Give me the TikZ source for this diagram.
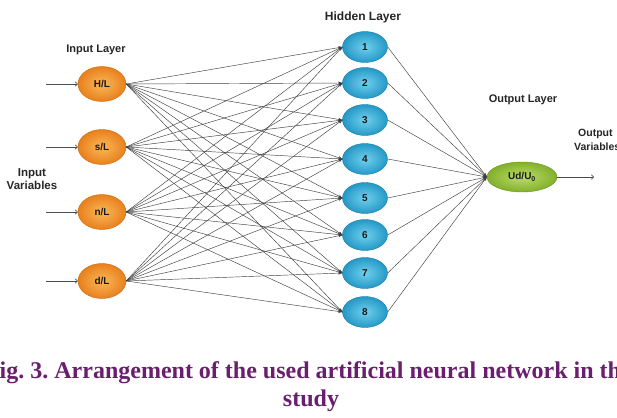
\documentclass[tikz,border=0pt]{standalone}
\usepackage{fontspec}
\setmainfont{Liberation Sans}
\newfontfamily\capfont{Liberation Serif}
\usetikzlibrary{arrows.meta,shapes.geometric}
\definecolor{orin}{HTML}{FBB85A}
\definecolor{orout}{HTML}{E8801C}
\definecolor{orbd}{HTML}{C86A12}
\definecolor{blin}{HTML}{6FD0EE}
\definecolor{blout}{HTML}{2598C6}
\definecolor{blbd}{HTML}{1F7FA8}
\definecolor{grin}{HTML}{BCDC68}
\definecolor{grout}{HTML}{82B02C}
\definecolor{grbd}{HTML}{6A9420}
\definecolor{capcol}{HTML}{6A1E6E}
\frenchspacing
\tikzset{
  lbl/.style={font=\bfseries\fontsize{11}{12.5}\selectfont, text=black!85, align=center, inner sep=0pt},
  nodefont/.style={font=\bfseries\fontsize{10}{11}\selectfont, text=black!90},
  inp/.style={ellipse, minimum width=48pt, minimum height=35pt, inner sep=0pt, inner color=orin, outer color=orout, draw=orbd, line width=0.4pt, nodefont},
  hid/.style={ellipse, minimum width=45pt, minimum height=31pt, inner sep=0pt, inner color=blin, outer color=blout, draw=blbd, line width=0.4pt, nodefont},
  outn/.style={ellipse, minimum width=70pt, minimum height=30pt, inner sep=0pt, inner color=grin, outer color=grout, draw=grbd, line width=0.4pt, nodefont},
  conn/.style={draw=black!75, line width=0.45pt, -{Stealth[length=4pt,width=3pt]}},
  iarrow/.style={draw=black!70, line width=0.6pt, -{To[length=3pt,width=5pt]}},
  captxt/.style={font=\capfont\bfseries\fontsize{24}{28}\selectfont, text=capcol, inner sep=0pt, anchor=base}
}
\begin{document}
\begin{tikzpicture}[x=1pt,y=-1pt]
\useasboundingbox (0,0) rectangle (617,417);
\clip (0,0) rectangle (617,417);
\fill[white] (0,0) rectangle (617,417);
% labels
\node[lbl] (tin) at (96,50) {Input Layer};
\node[lbl, font=\bfseries\fontsize{11.5}{12.5}\selectfont] (tiv) at (32,179) {Input\\Variables};
\node[lbl, font=\bfseries\fontsize{12}{13}\selectfont] (thl) at (363,17) {Hidden Layer};
\node[lbl] (tol) at (523,100) {Output Layer};
\node[lbl, anchor=west, align=left, font=\bfseries\fontsize{10.5}{14.5}\selectfont] (tov) at (574,140) {\hspace*{4pt}Output\\Variables};
% input nodes
\node[inp] (a) at (102,84) {H/L};
\node[inp] (b) at (102,147) {s/L};
\node[inp] (c) at (102,212) {n/L};
\node[inp] (d) at (102,281) {d/L};
% hidden nodes
\foreach \i/\y in {1/47,2/83,3/120,4/159,5/198,6/235,7/273,8/312}
  \node[hid] (h\i) at (365,\y) {\i};
% output node
\node[outn] (o) at (522,177) {Ud/U$_{\mathbf 0}$};
% input arrows
\foreach \n/\y in {a/84,b/147,c/212,d/281}{
  \coordinate (s\n) at (46,\y);
  \draw[iarrow] (s\n) -- (\n.west);
}
% input to hidden
\foreach \n in {a,b,c,d}
  \foreach \i in {1,...,8}
    \draw[conn] (\n.east) -- (h\i.west);
% hidden to output
\foreach \i in {1,...,8}
  \draw[conn] (h\i.east) -- (o.west);
% output arrow
\coordinate (oe) at (594,177);
\draw[iarrow] (o.east) -- (oe);
% caption
\node[captxt] (cap1) at (311,378) {Fig. 3. Arrangement of the used artificial neural network in this};
\node[captxt] (cap2) at (311,406) {study};
\end{tikzpicture}
\end{document}
